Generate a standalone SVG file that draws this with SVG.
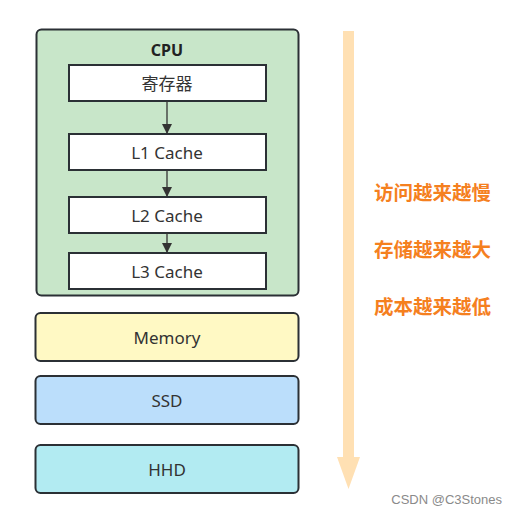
<svg xmlns="http://www.w3.org/2000/svg" width="517" height="514" viewBox="0 0 517 514">
<style>
.box{stroke:#2b3035;stroke-width:2}
.inner{fill:#ffffff;stroke:#2b3035;stroke-width:2}
.lbl{font-family:"Noto Sans","Noto Sans CJK SC",sans-serif;font-size:17px;fill:#333333;text-anchor:middle;dominant-baseline:central}
.note{font-family:"Noto Sans CJK SC",sans-serif;font-size:19.5px;font-weight:bold;fill:#f5801f}
.conn{stroke:#333333;stroke-width:1.3;fill:none}
</style>
<defs>
<marker id="ah" viewBox="0 0 10 10" refX="9" refY="5" markerWidth="10" markerHeight="10" markerUnits="userSpaceOnUse" orient="auto">
<path d="M0,0 L10,5 L0,10 z" fill="#333333"/>
</marker>
</defs>
<rect width="517" height="514" fill="#ffffff"/>
<g id="cpu">
<rect class="box" x="36.5" y="29.5" width="262" height="266" rx="5" fill="#c8e6c9"/>
<text x="167" y="49.5" class="lbl" style="font-weight:bold;fill:#222;font-size:16px">CPU</text>
</g>
<g id="reg">
<rect class="inner" x="69" y="65" width="197" height="36"/>
<text x="167" y="83" class="lbl">寄存器</text>
</g>
<g id="l1">
<rect class="inner" x="69" y="134" width="197" height="36"/>
<text x="167" y="152" class="lbl">L1 Cache</text>
</g>
<g id="l2">
<rect class="inner" x="69" y="197" width="197" height="36"/>
<text x="167" y="215" class="lbl">L2 Cache</text>
</g>
<g id="l3">
<rect class="inner" x="69" y="253" width="197" height="36"/>
<text x="167" y="271" class="lbl">L3 Cache</text>
</g>
<g id="memory">
<rect class="box" x="35.5" y="313" width="263" height="48" rx="5" fill="#fff9c4"/>
<text x="167" y="337" class="lbl">Memory</text>
</g>
<g id="ssd">
<rect class="box" x="35.5" y="376" width="263" height="48" rx="5" fill="#bbdefb"/>
<text x="167" y="400" class="lbl">SSD</text>
</g>
<g id="hhd">
<rect class="box" x="35.5" y="445" width="263" height="48" rx="5" fill="#b2ebf2"/>
<text x="167" y="469" class="lbl">HHD</text>
</g>
<g id="connectors">
<line class="conn" x1="167" y1="101" x2="167" y2="133" marker-end="url(#ah)"/>
<line class="conn" x1="167" y1="170" x2="167" y2="196" marker-end="url(#ah)"/>
<line class="conn" x1="167" y1="233" x2="167" y2="252" marker-end="url(#ah)"/>
</g>
<g id="trend">
<rect x="343" y="31" width="11" height="427" fill="#ffe0b3"/>
<polygon points="337,457 360,457 348.5,489" fill="#ffe0b3"/>
<text class="note" x="374" y="200">访问越来越慢</text>
<text class="note" x="374" y="257">存储越来越大</text>
<text class="note" x="374" y="314">成本越来越低</text>
</g>
<text x="502" y="504" text-anchor="end" style="font-family:'Liberation Sans',sans-serif;font-size:13px;fill:#8a8a8a">CSDN @C3Stones</text>
</svg>
